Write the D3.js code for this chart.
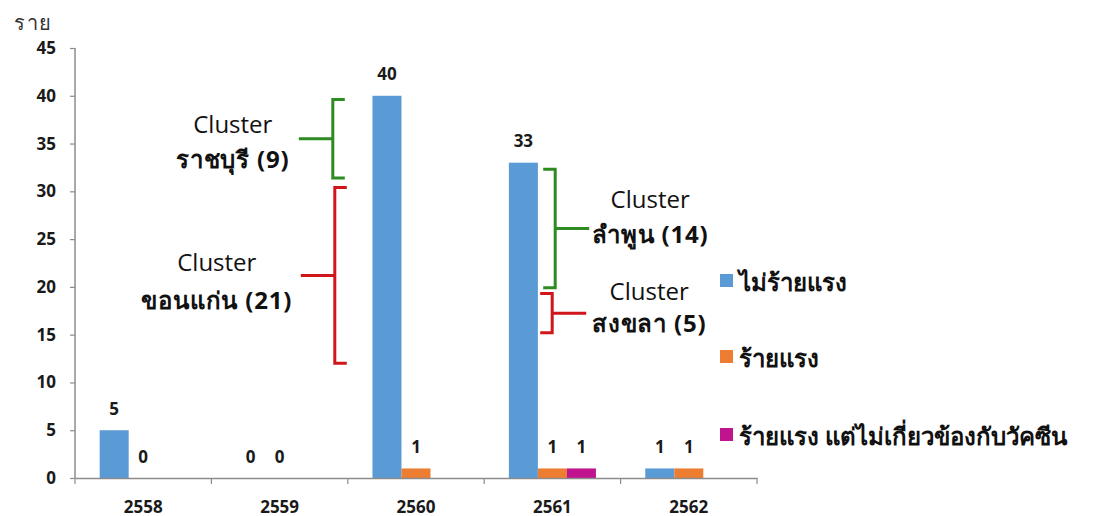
<!DOCTYPE html>
<html>
<head>
<meta charset="utf-8">
<script src="https://cdn.jsdelivr.net/npm/d3@7"></script>
<style>
  html, body { margin: 0; padding: 0; background: #fff; }
  svg { display: block; }
  text { font-family: "Open Sans", "Noto Sans", sans-serif; }
</style>
</head>
<body>
<svg id="chart" width="1119" height="516"></svg>
<script>
// Years (Buddhist era)
const years = ["2558", "2559", "2560", "2561", "2562"];
// Case counts by severity; null = not reported
const notSevere = [5, 0, 40, 33, 1];
const severe = [0, 0, 1, 1, 1];
const severeUnrelated = [null, null, null, 1, null];
const seriesNames = ["ไม่ร้ายแรง", "ร้ายแรง", "ร้ายแรง แต่ไม่เกี่ยวข้องกับวัคซีน"];
const yTicks = [0, 5, 10, 15, 20, 25, 30, 35, 40, 45];

// Case clusters marked alongside the bars (value span on the y scale)
const clusterYear = ["2560", "2560", "2561", "2561"];
const clusterTop = [39.6, 30.4, 32.3, 19.3];
const clusterBottom = [31.4, 12.0, 19.9, 15.2];
const clusterLine1 = ["Cluster", "Cluster", "Cluster", "Cluster"];
const clusterLine2 = ["ราชบุรี (9)", "ขอนแก่น (21)", "ลำพูน (14)", "สงขลา (5)"];

// Styling / layout
const seriesColors = ["#5B9BD5", "#ED7D31", "#C0148F"];
const clusterColor = ["#2E8B22", "#D0161B", "#2E8B22", "#D0161B"];
// bracket spine x offset from the year's band start, side (-1 = label on the left)
const clusterLayout = [
  { dx: -15, side: -1, lx: -66, l1: -15, l2: 20 },
  { dx: -13, side: -1, lx: -84, l1: -14, l2: 24 },
  { dx: 71, side: 1, lx: 61, l1: -30, l2: 5 },
  { dx: 68, side: 1, lx: 63, l1: -23, l2: 9 }
];

const svg = d3.select("#chart");

const x = d3.scaleBand().domain(years).range([75, 757]).paddingInner(0).paddingOuter(0);
const xs = d3.scaleBand().domain([0, 1, 2]).range([0, x.bandwidth()]).paddingInner(0).paddingOuter(0.85);
const y = d3.scaleLinear().domain([0, 45]).range([478, 48]);

const series = [notSevere, severe, severeUnrelated];
const rows = [];
series.forEach((vals, si) => vals.forEach((v, i) => {
  if (v !== null) rows.push({ year: years[i], s: si, v });
}));

// Bars
svg.append("g").selectAll("rect").data(rows).join("rect")
  .attr("x", d => x(d.year) + xs(d.s))
  .attr("y", d => y(d.v))
  .attr("width", xs.bandwidth())
  .attr("height", d => y(0) - y(d.v))
  .attr("fill", d => seriesColors[d.s]);

// Value labels
svg.append("g").selectAll("text").data(rows).join("text")
  .attr("x", d => x(d.year) + xs(d.s) + xs.bandwidth() / 2)
  .attr("y", d => y(d.v) - 22)
  .attr("text-anchor", "middle")
  .attr("dominant-baseline", "central")
  .attr("font-size", 17).attr("font-weight", 700).attr("fill", "#1a1a1a")
  .text(d => d.v);

// Y axis
const yAxis = svg.append("g").attr("transform", "translate(75,0)")
  .call(d3.axisLeft(y).tickValues(yTicks).tickSize(5).tickPadding(14));
yAxis.select(".domain").attr("stroke", "#8c8c8c").attr("stroke-width", 1.5).attr("d", `M0,${y(45)}V${y(0)}`);
yAxis.selectAll(".tick line").attr("stroke", "#8c8c8c").attr("stroke-width", 1.2);
yAxis.selectAll(".tick text").attr("font-size", 17).attr("font-weight", 700).attr("fill", "#1a1a1a")
  .attr("font-family", "'Open Sans', sans-serif");

// X axis with ticks at category boundaries
const xAxis = svg.append("g").attr("transform", `translate(0,${y(0)})`)
  .call(d3.axisBottom(x).tickSize(0));
xAxis.select(".domain").attr("stroke", "#8c8c8c").attr("stroke-width", 1.5);
xAxis.selectAll(".tick text").attr("y", 28).attr("dy", null).attr("dominant-baseline", "central")
  .attr("font-size", 17).attr("font-weight", 700).attr("fill", "#1a1a1a")
  .attr("font-family", "'Open Sans', sans-serif");
xAxis.selectAll("line.bound").data(d3.range(years.length + 1)).join("line").attr("class", "bound")
  .attr("x1", i => x.range()[0] + i * x.step())
  .attr("x2", i => x.range()[0] + i * x.step())
  .attr("y1", 0).attr("y2", 6).attr("stroke", "#8c8c8c").attr("stroke-width", 1.2);

// Unit label
svg.append("text").attr("x", 14).attr("y", 22).attr("dominant-baseline", "central")
  .attr("font-size", 20).attr("letter-spacing", 1.5).attr("fill", "#333").text("ราย");

// Cluster brackets and labels
clusterYear.forEach((yr, i) => {
  const L = clusterLayout[i];
  const t = y(clusterTop[i]), b = y(clusterBottom[i]), m = (t + b) / 2;
  const vx = x(yr) + L.dx;
  const endX = vx - L.side * 12;        // short serifs point away from the label
  const tipX = vx + L.side * 34;        // centre tick points toward the label
  svg.append("path")
    .attr("d", `M${endX},${t}H${vx}V${b}H${endX}M${vx},${m}H${tipX}`)
    .attr("fill", "none").attr("stroke", clusterColor[i]).attr("stroke-width", 3);
  const cx = tipX + L.lx;
  const lab = svg.append("g").attr("text-anchor", "middle").attr("fill", "#111");
  lab.append("text").attr("x", cx).attr("y", m + L.l1).attr("dominant-baseline", "central")
    .attr("font-size", 24).text(clusterLine1[i]);
  lab.append("text").attr("x", cx).attr("y", m + L.l2).attr("dominant-baseline", "central")
    .attr("font-size", 24).attr("font-weight", 700).attr("letter-spacing", 0.8).text(clusterLine2[i]);
});

// Legend
const legendY = [281, 357, 435];
const legend = svg.append("g").selectAll("g").data(seriesNames).join("g")
  .attr("transform", (d, i) => `translate(720,${legendY[i]})`);
legend.append("rect").attr("x", 0).attr("y", -7).attr("width", 13).attr("height", 13)
  .attr("fill", (d, i) => seriesColors[i]);
legend.append("text").attr("x", 19).attr("y", 0).attr("dominant-baseline", "central")
  .attr("font-size", 24).attr("font-weight", 700).attr("fill", "#111").text(d => d);
</script>
</body>
</html>
